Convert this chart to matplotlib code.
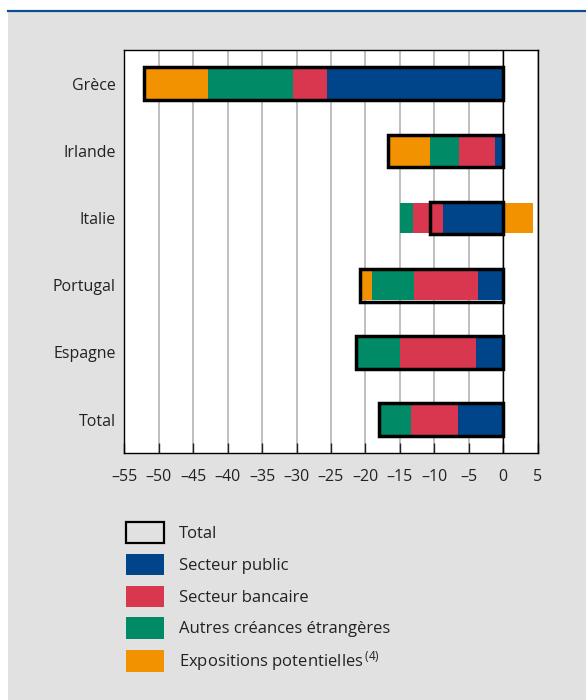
import numpy as np
import matplotlib
matplotlib.use("Agg")
import matplotlib.pyplot as plt
from matplotlib.patches import Patch, Rectangle
from matplotlib.lines import Line2D

plt.rcParams['font.family'] = ['Open Sans', 'DejaVu Sans']
plt.rcParams['mathtext.default'] = 'regular'

# valeurs (milliards)
pays = ["Grèce", "Irlande", "Italie", "Portugal", "Espagne", "Total"]
secteur_public = [-25.6, -1.2, -8.8, -3.7, -4.0, -6.5]
secteur_bancaire = [-4.9, -5.2, -4.3, -9.3, -11.0, -6.9]
autres_creances = [-12.4, -4.2, -1.9, -6.1, -6.4, -4.7]
expositions = [-9.2, -6.1, 4.3, -1.7, 0.0, 0.0]
x_ticks = [-55, -50, -45, -40, -35, -30, -25, -20, -15, -10, -5, 0, 5]

series = [
    ("Secteur public", secteur_public, "#00458a"),
    ("Secteur bancaire", secteur_bancaire, "#d9374f"),
    ("Autres créances étrangères", autres_creances, "#008a65"),
    (r"Expositions potentielles$^{\,(4)}$", expositions, "#f39200"),
]

bg = "#e1e1e1"
fig = plt.figure(figsize=(5.86, 7.0), dpi=100, facecolor="white")
fig.patches.append(Rectangle((8 / 586, 0), 1, 688 / 700, transform=fig.transFigure,
                             facecolor=bg, edgecolor="none", zorder=-10))
fig.lines.append(Line2D([8 / 586, 1], [1 - 10.5 / 700] * 2, transform=fig.transFigure,
                        color="#0d4c8e", lw=1.6))

ax = fig.add_axes([124.3 / 586, 1 - 453.3 / 700, 413.4 / 586, 403.3 / 700])
ax.set_facecolor("white")

y = np.arange(len(pays))
neg = np.zeros(len(pays))
pos = np.zeros(len(pays))
for name, vals, col in series:
    v = np.array(vals)
    left = np.where(v < 0, neg, pos)
    ax.barh(y, v, left=left, height=0.45, color=col, edgecolor="none", zorder=3)
    neg += np.minimum(v, 0)
    pos += np.maximum(v, 0)

total = neg + pos
ax.barh(y, total, height=0.485, facecolor="none", edgecolor="black", linewidth=2.5, zorder=4)

ax.axvline(0, color="black", lw=1, zorder=2)
ax.set_xlim(-55, 5)
ax.set_ylim(5.5, -0.5)
ax.set_xticks(x_ticks, [str(t).replace("-", "–") for t in x_ticks])
ax.set_yticks(y, pays)
ax.tick_params(axis="x", direction="in", length=7, width=1, pad=11, labelsize=11.5, colors="#222222")
ax.tick_params(axis="y", length=0, pad=6, labelsize=11.5, colors="#222222")
ax.grid(axis="x", color="#b4b4b4", lw=1.2, zorder=1)
ax.set_axisbelow(True)
for s in ax.spines.values():
    s.set_color("black")
    s.set_linewidth(1)

handles = [Patch(facecolor="none", edgecolor="black", linewidth=1.6, label="Total")]
handles += [Patch(facecolor=col, edgecolor="none", label=name) for name, vals, col in series]
fig.legend(handles=handles, loc="upper left", bbox_to_anchor=(111 / 586, 1 - 507 / 700),
           frameon=False, fontsize=12, handlelength=2.3, handleheight=1.6,
           labelspacing=0.62, handletextpad=0.9, labelcolor="#222222")

fig.savefig("out.png", dpi=100, facecolor="white")
